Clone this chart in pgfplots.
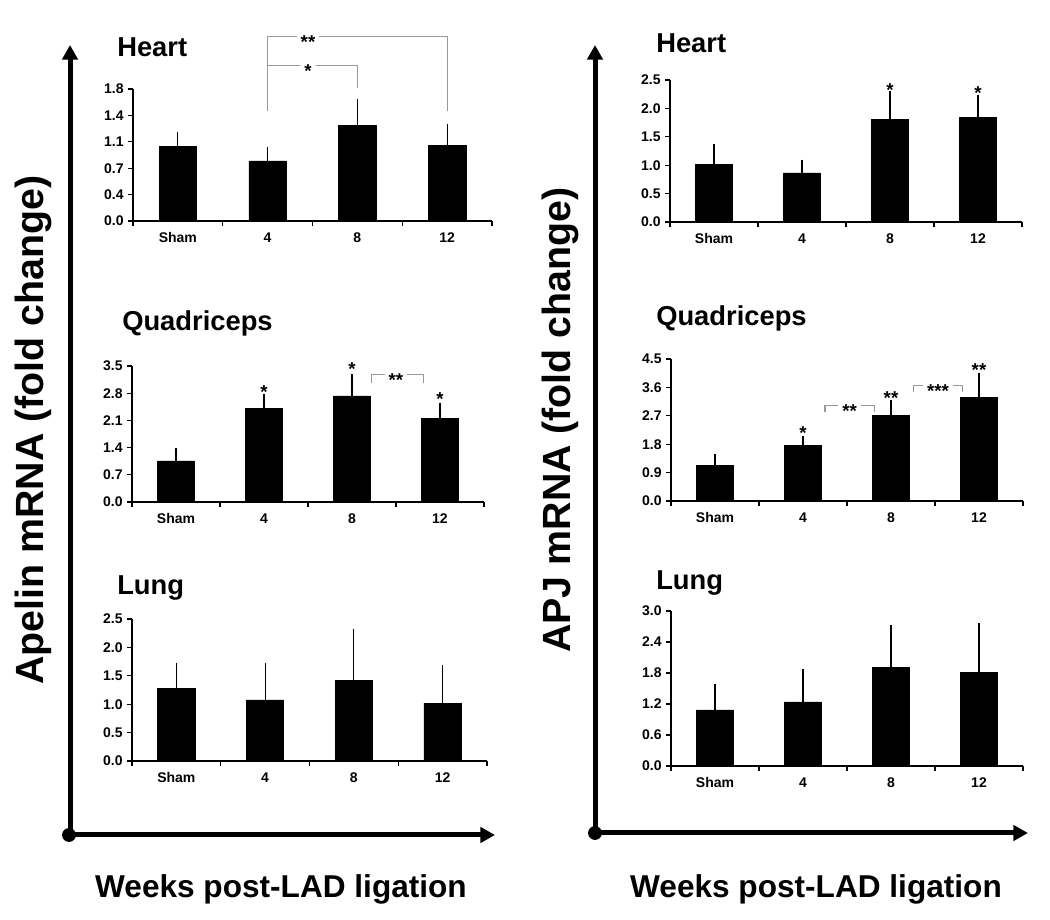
\documentclass[border=0pt]{standalone}
\usepackage{fontspec}
\setmainfont{Liberation Sans}
\usepackage{pgfplots}
\pgfplotsset{compat=1.18}
\usetikzlibrary{arrows.meta}

\pgfplotsset{
  panel/.style={
    scale only axis, anchor=south west, clip=false,
    ybar, bar width=0.42, ymin=0, xmin=-0.5, xmax=3.5,
    axis x line*=bottom, axis y line*=left,
    x axis line style={line width=1.5pt},
    y axis line style={line width=0.8pt},
    tick align=outside, major tick length=3.5pt,
    xtick={-0.5,0.5,1.5,2.5,3.5}, xticklabels={,,,,,},
    every tick/.style={black, line width=1pt},
    extra x ticks={0,1,2,3}, extra x tick labels={Sham,4,8,12},
    extra x tick style={major tick length=0pt,
      xticklabel style={yshift=-5pt, text height=7.5pt, text depth=0pt}},
    tick label style={font=\bfseries\fontsize{10.5}{12}\selectfont},
  },
  bars/.style={fill=black, draw=black,
    error bars/.cd, y dir=plus, y explicit,
    error bar style={line width=0.8pt, black},
    error mark options={line width=0.8pt, mark size=2.6pt, black}},
}
\tikzset{
  star/.style={font=\bfseries\fontsize{14}{14}\selectfont, inner sep=0pt, anchor=base, yshift=-8pt},
  sig/.style={star, fill=white, inner xsep=3pt, inner ysep=1pt, yshift=-1pt},
  brk/.style={gray!80, line width=0.8pt},
  ttl/.style={font=\bfseries\fontsize{20.5}{24}\selectfont, inner sep=0pt, anchor=base west},
}

\begin{document}
\begin{tikzpicture}
\useasboundingbox (0,0) rectangle (787.5pt,690pt);

\begin{scope}[x=0.75pt,y=0.75pt]
% big axes arrows
\draw[line width=3.75pt, -{Triangle[width=11.5pt,length=11pt]}] (70,85) -- (70,875);
\draw[line width=3.75pt, -{Triangle[width=11.5pt,length=11pt]}] (70,85) -- (495,85);
\fill (69,85) circle (5.2pt);
\draw[line width=3.75pt, -{Triangle[width=11.5pt,length=11pt]}] (595,87) -- (595,875);
\draw[line width=3.75pt, -{Triangle[width=11.5pt,length=11pt]}] (595,87) -- (1028,87);
\fill (595,87) circle (5.2pt);

\node[rotate=90, font=\bfseries\fontsize{29.5}{32}\selectfont] at (33,490) {Apelin mRNA (fold change)};
\node[rotate=90, font=\bfseries\fontsize{29.5}{32}\selectfont] at (560,500) {APJ mRNA (fold change)};
\node[anchor=base, font=\bfseries\fontsize{23.7}{26}\selectfont] at (281,22) {Weeks post-LAD ligation};
\node[anchor=base, font=\bfseries\fontsize{23.7}{26}\selectfont] at (816,22) {Weeks post-LAD ligation};

% titles
\node[ttl] at (117,863) {Heart};
\node[ttl] at (122,589) {Quadriceps};
\node[ttl] at (117,325) {Lung};
\node[ttl] at (656,867) {Heart};
\node[ttl] at (656,594) {Quadriceps};
\node[ttl] at (656,330) {Lung};
\end{scope}

% Apelin - Heart
\begin{axis}[panel, at={(99.75pt,524.25pt)}, width=269.25pt, height=99pt, ymax=1.8,
  ytick={0,0.36,0.72,1.08,1.44,1.8}, yticklabels={0.0,0.4,0.7,1.1,1.4,1.8}]
\addplot[bars] coordinates {(0,1.016) +- (0,0.146) (1,0.82) +- (0,0.137)
  (2,1.30) +- (0,0.318) (3,1.034) +- (0,0.242)};
\draw[brk] (axis cs:1,1.495) -- (axis cs:1,2.51) -- (axis cs:3,2.51) -- (axis cs:3,1.495);
\draw[brk] (axis cs:1,2.12) -- (axis cs:2,2.12) -- (axis cs:2,1.81);
\node[sig] at (axis cs:1.45,2.51) {**};
\node[sig] at (axis cs:1.45,2.12) {*};
\end{axis}

% Apelin - Quadriceps
\begin{axis}[panel, at={(99pt,313.5pt)}, width=264pt, height=102pt, ymax=3.5,
  ytick={0,0.7,1.4,2.1,2.8,3.5}, yticklabels={0.0,0.7,1.4,2.1,2.8,3.5}]
\addplot[bars] coordinates {(0,1.059) +- (0,0.239) (1,2.416) +- (0,0.264)
  (2,2.73) +- (0,0.48) (3,2.143) +- (0,0.324)};
\node[star] at (axis cs:1,2.94) {*};
\node[star] at (axis cs:2,3.54) {*};
\node[star] at (axis cs:3,2.77) {*};
\draw[brk] (axis cs:2.22,3.05) -- (axis cs:2.22,3.29) -- (axis cs:2.81,3.29) -- (axis cs:2.81,3.05);
\node[sig] at (axis cs:2.5,3.29) {**};
\end{axis}

% Apelin - Lung
\begin{axis}[panel, at={(99pt,119.25pt)}, width=266.25pt, height=106.5pt, ymax=2.5,
  ytick={0,0.5,1,1.5,2,2.5}, yticklabels={0.0,0.5,1.0,1.5,2.0,2.5}]
\addplot[bars] coordinates {(0,1.273) +- (0,0.394) (1,1.074) +- (0,0.599)
  (2,1.414) +- (0,0.856) (3,1.021) +- (0,0.605)};
\end{axis}

% APJ - Heart
\begin{axis}[panel, at={(502.5pt,523.5pt)}, width=264pt, height=106.5pt, ymax=2.5,
  ytick={0,0.5,1,1.5,2,2.5}, yticklabels={0.0,0.5,1.0,1.5,2.0,2.5}]
\addplot[bars] coordinates {(0,1.018) +- (0,0.288) (1,0.865) +- (0,0.17)
  (2,1.80) +- (0,0.447) (3,1.835) +- (0,0.345)};
\node[star] at (axis cs:2,2.39) {*};
\node[star] at (axis cs:3,2.34) {*};
\end{axis}

% APJ - Quadriceps
\begin{axis}[panel, at={(503.25pt,314.25pt)}, width=264pt, height=106.5pt, ymax=4.5,
  ytick={0,0.9,1.8,2.7,3.6,4.5}, yticklabels={0.0,0.9,1.8,2.7,3.6,4.5}]
\addplot[bars] coordinates {(0,1.13) +- (0,0.264) (1,1.754) +- (0,0.2)
  (2,2.715) +- (0,0.38) (3,3.275) +- (0,0.675)};
\node[star] at (axis cs:1,2.30) {*};
\node[star] at (axis cs:2,3.41) {**};
\node[star] at (axis cs:3,4.28) {**};
\draw[brk] (axis cs:1.25,2.83) -- (axis cs:1.25,3.04) -- (axis cs:1.81,3.04) -- (axis cs:1.81,2.83);
\node[sig] at (axis cs:1.53,3.04) {**};
\draw[brk] (axis cs:2.26,3.44) -- (axis cs:2.26,3.65) -- (axis cs:2.81,3.65) -- (axis cs:2.81,3.44);
\node[sig] at (axis cs:2.535,3.65) {***};
\end{axis}

% APJ - Lung
\begin{axis}[panel, at={(503.25pt,115.5pt)}, width=264pt, height=116.25pt, ymax=3.0,
  ytick={0,0.6,1.2,1.8,2.4,3.0}, yticklabels={0.0,0.6,1.2,1.8,2.4,3.0}]
\addplot[bars] coordinates {(0,1.086) +- (0,0.427) (1,1.241) +- (0,0.569)
  (2,1.914) +- (0,0.75) (3,1.81) +- (0,0.886)};
\end{axis}
\end{tikzpicture}
\end{document}
